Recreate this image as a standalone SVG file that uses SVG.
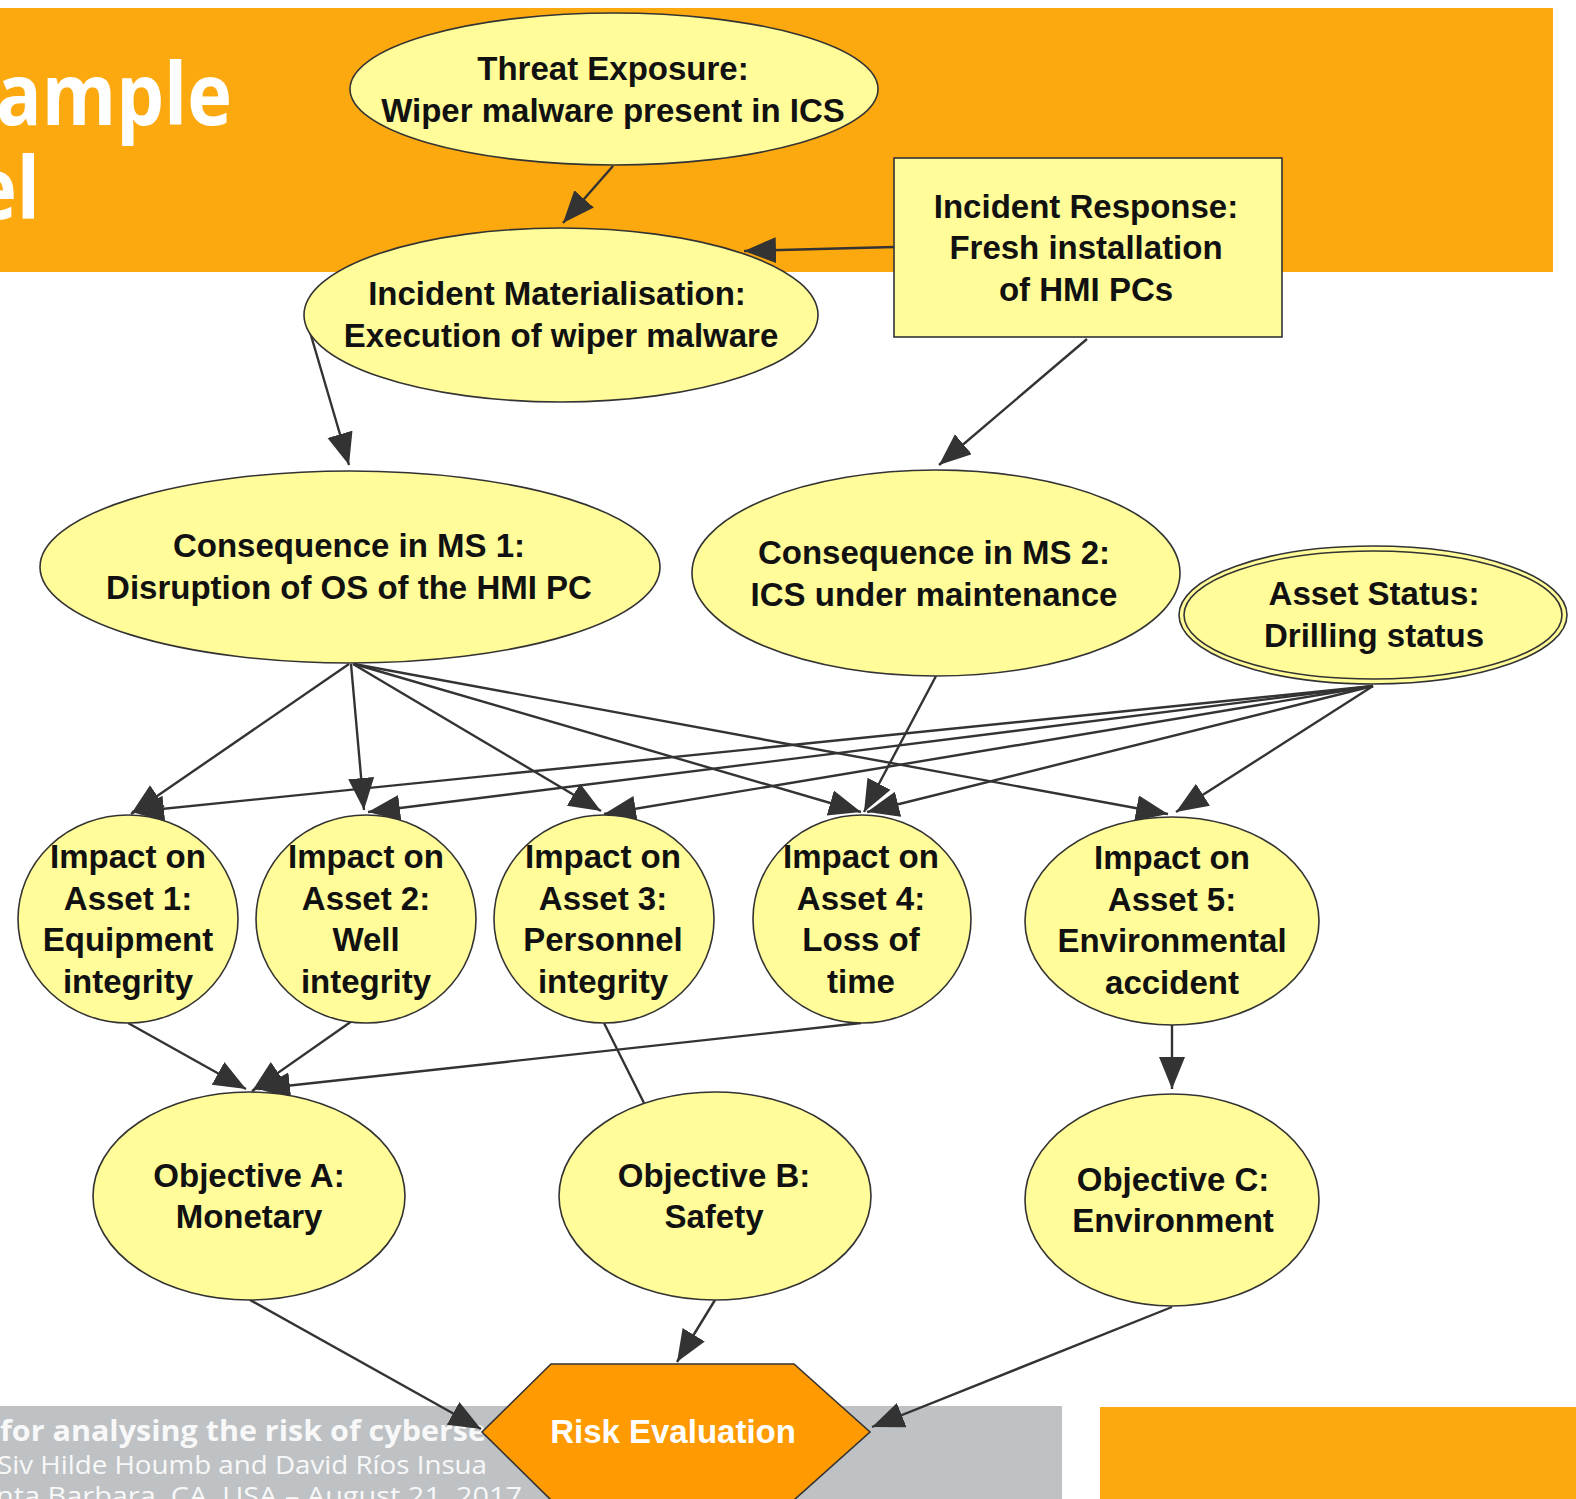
<svg xmlns="http://www.w3.org/2000/svg" width="1576" height="1499" viewBox="0 0 1576 1499">
  <style>
    .node { fill: #FFFC99; stroke: #333; stroke-width: 1.6; }
    .lbl { font-family: "Liberation Sans", Arial, sans-serif; font-weight: bold; font-size: 33px; fill: #111; text-anchor: middle; }
    .edge { stroke: #333; stroke-width: 2.4; fill: none; marker-end: url(#ah); }
    .plain { stroke: #333; stroke-width: 2.4; fill: none; }
    .title { font-family: "Open Sans", "Noto Sans", sans-serif; font-weight: bold; font-size: 86px; fill: #fff; }
    .foot { font-family: "Open Sans", "Noto Sans", sans-serif; fill: #f8f8f8; }
  </style>
  <defs>
    <marker id="ah" markerUnits="userSpaceOnUse" markerWidth="34" markerHeight="28" refX="32" refY="13" orient="auto">
      <path d="M0,0 L32,13 L0,26 z" fill="#333"/>
    </marker>
  </defs>

  <rect width="1576" height="1499" fill="#fff"/>

  <!-- slide background: header band, footer bars -->
  <g id="slide">
    <rect x="0" y="8" width="1553" height="264" fill="#FCA90F"/>
    <text class="title" x="-4" y="125" textLength="236" lengthAdjust="spacingAndGlyphs">ample</text>
    <text class="title" x="-28" y="219" textLength="68" lengthAdjust="spacingAndGlyphs">el</text>
    <rect x="0" y="1406" width="1062" height="93" fill="#BEC2C5"/>
    <rect x="1100" y="1407" width="476" height="92" fill="#FCA90F"/>
    <text class="foot" x="0" y="1441" font-size="29" font-weight="bold" textLength="486" lengthAdjust="spacingAndGlyphs">for analysing the risk of cyberse</text>
    <text class="foot" x="-3" y="1474" font-size="26" textLength="490" lengthAdjust="spacingAndGlyphs">Siv Hilde Houmb and David Ríos Insua</text>
    <text class="foot" x="-4" y="1505" font-size="26" textLength="526" lengthAdjust="spacingAndGlyphs">nta Barbara, CA, USA – August 21, 2017</text>
  </g>

  <!-- connectors -->
  <g id="edges">
    <line class="edge" x1="613" y1="166" x2="563" y2="223"/>
    <line class="edge" x1="894" y1="247" x2="744" y2="251"/>
    <line class="edge" x1="310" y1="332" x2="349" y2="465"/>
    <line class="edge" x1="1087" y1="339" x2="939" y2="465"/>

    <line class="edge" x1="349" y1="664" x2="131" y2="814"/>
    <line class="edge" x1="351" y1="664" x2="364" y2="810"/>
    <line class="edge" x1="353" y1="664" x2="601" y2="811"/>
    <line class="edge" x1="354" y1="664" x2="861" y2="812"/>
    <line class="edge" x1="354" y1="664" x2="1168" y2="814"/>
    <line class="edge" x1="936" y1="676" x2="864" y2="812"/>

    <line class="edge" x1="1373" y1="686" x2="132" y2="812"/>
    <line class="edge" x1="1373" y1="686" x2="368" y2="812"/>
    <line class="edge" x1="1373" y1="686" x2="604" y2="814"/>
    <line class="edge" x1="1373" y1="686" x2="867" y2="812"/>
    <line class="edge" x1="1373" y1="686" x2="1176" y2="812"/>

    <line class="edge" x1="128" y1="1023" x2="246" y2="1089"/>
    <line class="edge" x1="352" y1="1021" x2="252" y2="1091"/>
    <line class="edge" x1="861" y1="1023" x2="258" y2="1089"/>
    <line class="plain" x1="604" y1="1023" x2="644" y2="1103"/>
    <line class="edge" x1="1172" y1="1025" x2="1172" y2="1089"/>

    <line class="edge" x1="250" y1="1300" x2="481" y2="1429"/>
    <line class="edge" x1="715" y1="1300" x2="677" y2="1362"/>
    <line class="edge" x1="1172" y1="1307" x2="872" y2="1427"/>
  </g>

  <!-- nodes -->
  <g id="threat">
    <ellipse class="node" cx="614" cy="89" rx="264" ry="76"/>
    <text class="lbl" x="613" y="80">Threat Exposure:</text>
    <text class="lbl" x="613" y="122">Wiper malware present in ICS</text>
  </g>
  <g id="incident-materialisation">
    <ellipse class="node" cx="561" cy="315" rx="257" ry="87"/>
    <text class="lbl" x="557" y="305">Incident Materialisation:</text>
    <text class="lbl" x="561" y="347">Execution of wiper malware</text>
  </g>
  <g id="incident-response">
    <rect class="node" x="894" y="158" width="388" height="179"/>
    <text class="lbl" x="1086" y="218">Incident Response:</text>
    <text class="lbl" x="1086" y="259">Fresh installation</text>
    <text class="lbl" x="1086" y="301">of HMI PCs</text>
  </g>
  <g id="consequence-ms1">
    <ellipse class="node" cx="350" cy="567" rx="310" ry="96"/>
    <text class="lbl" x="349" y="557">Consequence in MS 1:</text>
    <text class="lbl" x="349" y="599">Disruption of OS of the HMI PC</text>
  </g>
  <g id="consequence-ms2">
    <ellipse class="node" cx="936" cy="573" rx="244" ry="103"/>
    <text class="lbl" x="934" y="564">Consequence in MS 2:</text>
    <text class="lbl" x="934" y="606">ICS under maintenance</text>
  </g>
  <g id="asset-status">
    <ellipse class="node" cx="1373" cy="615" rx="194" ry="69"/>
    <ellipse class="node" cx="1373" cy="615" rx="189" ry="64"/>
    <text class="lbl" x="1374" y="605">Asset Status:</text>
    <text class="lbl" x="1374" y="647">Drilling status</text>
  </g>

  <g id="impact1">
    <ellipse class="node" cx="128" cy="919" rx="110" ry="104"/>
    <text class="lbl" x="128" y="868">Impact on</text>
    <text class="lbl" x="128" y="910">Asset 1:</text>
    <text class="lbl" x="128" y="951">Equipment</text>
    <text class="lbl" x="128" y="993">integrity</text>
  </g>
  <g id="impact2">
    <ellipse class="node" cx="366" cy="919" rx="110" ry="104"/>
    <text class="lbl" x="366" y="868">Impact on</text>
    <text class="lbl" x="366" y="910">Asset 2:</text>
    <text class="lbl" x="366" y="951">Well</text>
    <text class="lbl" x="366" y="993">integrity</text>
  </g>
  <g id="impact3">
    <ellipse class="node" cx="604" cy="919" rx="110" ry="104"/>
    <text class="lbl" x="603" y="868">Impact on</text>
    <text class="lbl" x="603" y="910">Asset 3:</text>
    <text class="lbl" x="603" y="951">Personnel</text>
    <text class="lbl" x="603" y="993">integrity</text>
  </g>
  <g id="impact4">
    <ellipse class="node" cx="862" cy="919" rx="109" ry="104"/>
    <text class="lbl" x="861" y="868">Impact on</text>
    <text class="lbl" x="861" y="910">Asset 4:</text>
    <text class="lbl" x="861" y="951">Loss of</text>
    <text class="lbl" x="861" y="993">time</text>
  </g>
  <g id="impact5">
    <ellipse class="node" cx="1172" cy="921" rx="147" ry="104"/>
    <text class="lbl" x="1172" y="869">Impact on</text>
    <text class="lbl" x="1172" y="911">Asset 5:</text>
    <text class="lbl" x="1172" y="952">Environmental</text>
    <text class="lbl" x="1172" y="994">accident</text>
  </g>

  <g id="objective-a">
    <ellipse class="node" cx="249" cy="1196" rx="156" ry="104"/>
    <text class="lbl" x="249" y="1187">Objective A:</text>
    <text class="lbl" x="249" y="1228">Monetary</text>
  </g>
  <g id="objective-b">
    <ellipse class="node" cx="715" cy="1196" rx="156" ry="104"/>
    <text class="lbl" x="714" y="1187">Objective B:</text>
    <text class="lbl" x="714" y="1228">Safety</text>
  </g>
  <g id="objective-c">
    <ellipse class="node" cx="1172" cy="1200" rx="147" ry="106"/>
    <text class="lbl" x="1173" y="1191">Objective C:</text>
    <text class="lbl" x="1173" y="1232">Environment</text>
  </g>

  <g id="risk-evaluation">
    <polygon points="551,1364 794,1364 870,1432 794,1500 551,1500 482,1432" fill="#FF9A00" stroke="#333" stroke-width="1.6"/>
    <text class="lbl" x="673" y="1443" style="fill:#fff">Risk Evaluation</text>
  </g>
</svg>
